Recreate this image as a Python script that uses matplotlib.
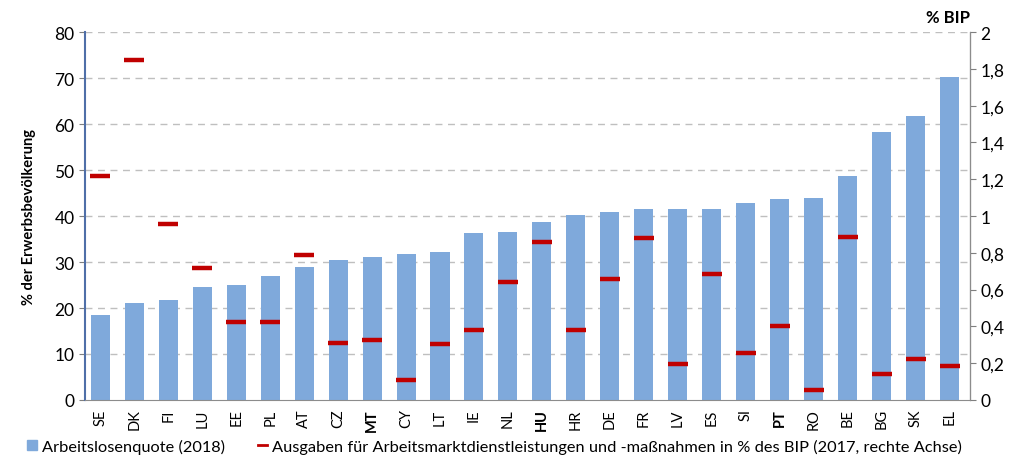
import matplotlib.pyplot as plt
from matplotlib.ticker import FuncFormatter
from matplotlib.lines import Line2D
from matplotlib.patches import Patch

plt.rcParams['font.family'] = ['Lato', 'DejaVu Sans']

# Länder und Werte
laender = ['SE', 'DK', 'FI', 'LU', 'EE', 'PL', 'AT', 'CZ', 'MT', 'CY', 'LT', 'IE', 'NL',
           'HU', 'HR', 'DE', 'FR', 'LV', 'ES', 'SI', 'PT', 'RO', 'BE', 'BG', 'SK', 'EL']
fett = ['MT', 'HU', 'PT']

quote_2018 = [18.5, 21.0, 21.8, 24.6, 24.9, 26.9, 28.9, 30.5, 31.0, 31.8, 32.1, 36.3, 36.6,
              38.6, 40.2, 40.9, 41.6, 41.6, 41.6, 42.9, 43.6, 44.0, 48.6, 58.3, 61.8, 70.3]
ausgaben_2017 = [1.22, 1.85, 0.955, 0.72, 0.425, 0.425, 0.79, 0.31, 0.325, 0.11, 0.305, 0.38, 0.64,
                 0.86, 0.38, 0.655, 0.88, 0.195, 0.685, 0.255, 0.40, 0.055, 0.885, 0.14, 0.225, 0.185]

blau = '#7FA9DB'
rot = '#C00000'

fig = plt.figure(figsize=(10.2, 4.64), dpi=100)
ax = fig.add_axes([0.0833, 0.1358, 0.8677, 0.793])
x = list(range(len(laender)))

ax.bar(x, quote_2018, width=0.56, color=blau, zorder=2)
ax.set_ylim(0, 80)
ax.set_xlim(-0.45, 25.6)
ax.set_yticks(range(0, 81, 10))
for v in range(10, 81, 10):
    ax.axhline(v, color='#BFBFBF', lw=1, ls=(0, (5, 4)), zorder=1)
ax.set_xticks(x)
ax.set_xticklabels(laender, rotation=90, fontsize=10.5)
for lbl in ax.get_xticklabels():
    if lbl.get_text() in fett:
        lbl.set_fontweight('bold')
ax.tick_params(axis='y', labelsize=12.5, length=4, color='#7F7F7F')
ax.tick_params(axis='x', length=0, pad=6)
ax.set_ylabel('% der Erwerbsbevölkerung', fontsize=10.5, fontweight='bold', labelpad=13)
ax.spines['top'].set_visible(False)
ax.spines['left'].set_color('#4F6FA8')
ax.spines['left'].set_linewidth(1.5)
ax.spines['bottom'].set_color('#8C8C8C')

ax2 = ax.twinx()
ax2.scatter(x, ausgaben_2017, marker='_', s=200, linewidths=3.2, color=rot, zorder=3)
ax2.set_ylim(0, 2)
ax2.set_yticks([i / 10 for i in range(0, 21, 2)])
ax2.yaxis.set_major_formatter(FuncFormatter(lambda v, p: ('%g' % round(v, 1)).replace('.', ',')))
ax2.tick_params(axis='y', labelsize=12.5, length=4, color='#7F7F7F')
ax2.spines['top'].set_visible(False)
ax2.spines['left'].set_visible(False)
ax2.spines['right'].set_color('#8C8C8C')
ax2.spines['bottom'].set_visible(False)
ax2.text(1.0, 1.02, '% BIP', transform=ax2.transAxes, ha='right', va='bottom',
         fontsize=12, fontweight='bold')

handles = [Patch(color=blau), Line2D([], [], color=rot, lw=2)]
labels = ['Arbeitslosenquote (2018)',
          'Ausgaben für Arbeitsmarktdienstleistungen und -maßnahmen in % des BIP (2017, rechte Achse)']
fig.legend(handles, labels, loc='lower left', bbox_to_anchor=(0.012, -0.012), ncol=2,
           frameon=False, fontsize=11.8, handlelength=0.6, handleheight=0.6,
           handletextpad=0.3, columnspacing=2.0)

plt.savefig('out.png', dpi=100)
